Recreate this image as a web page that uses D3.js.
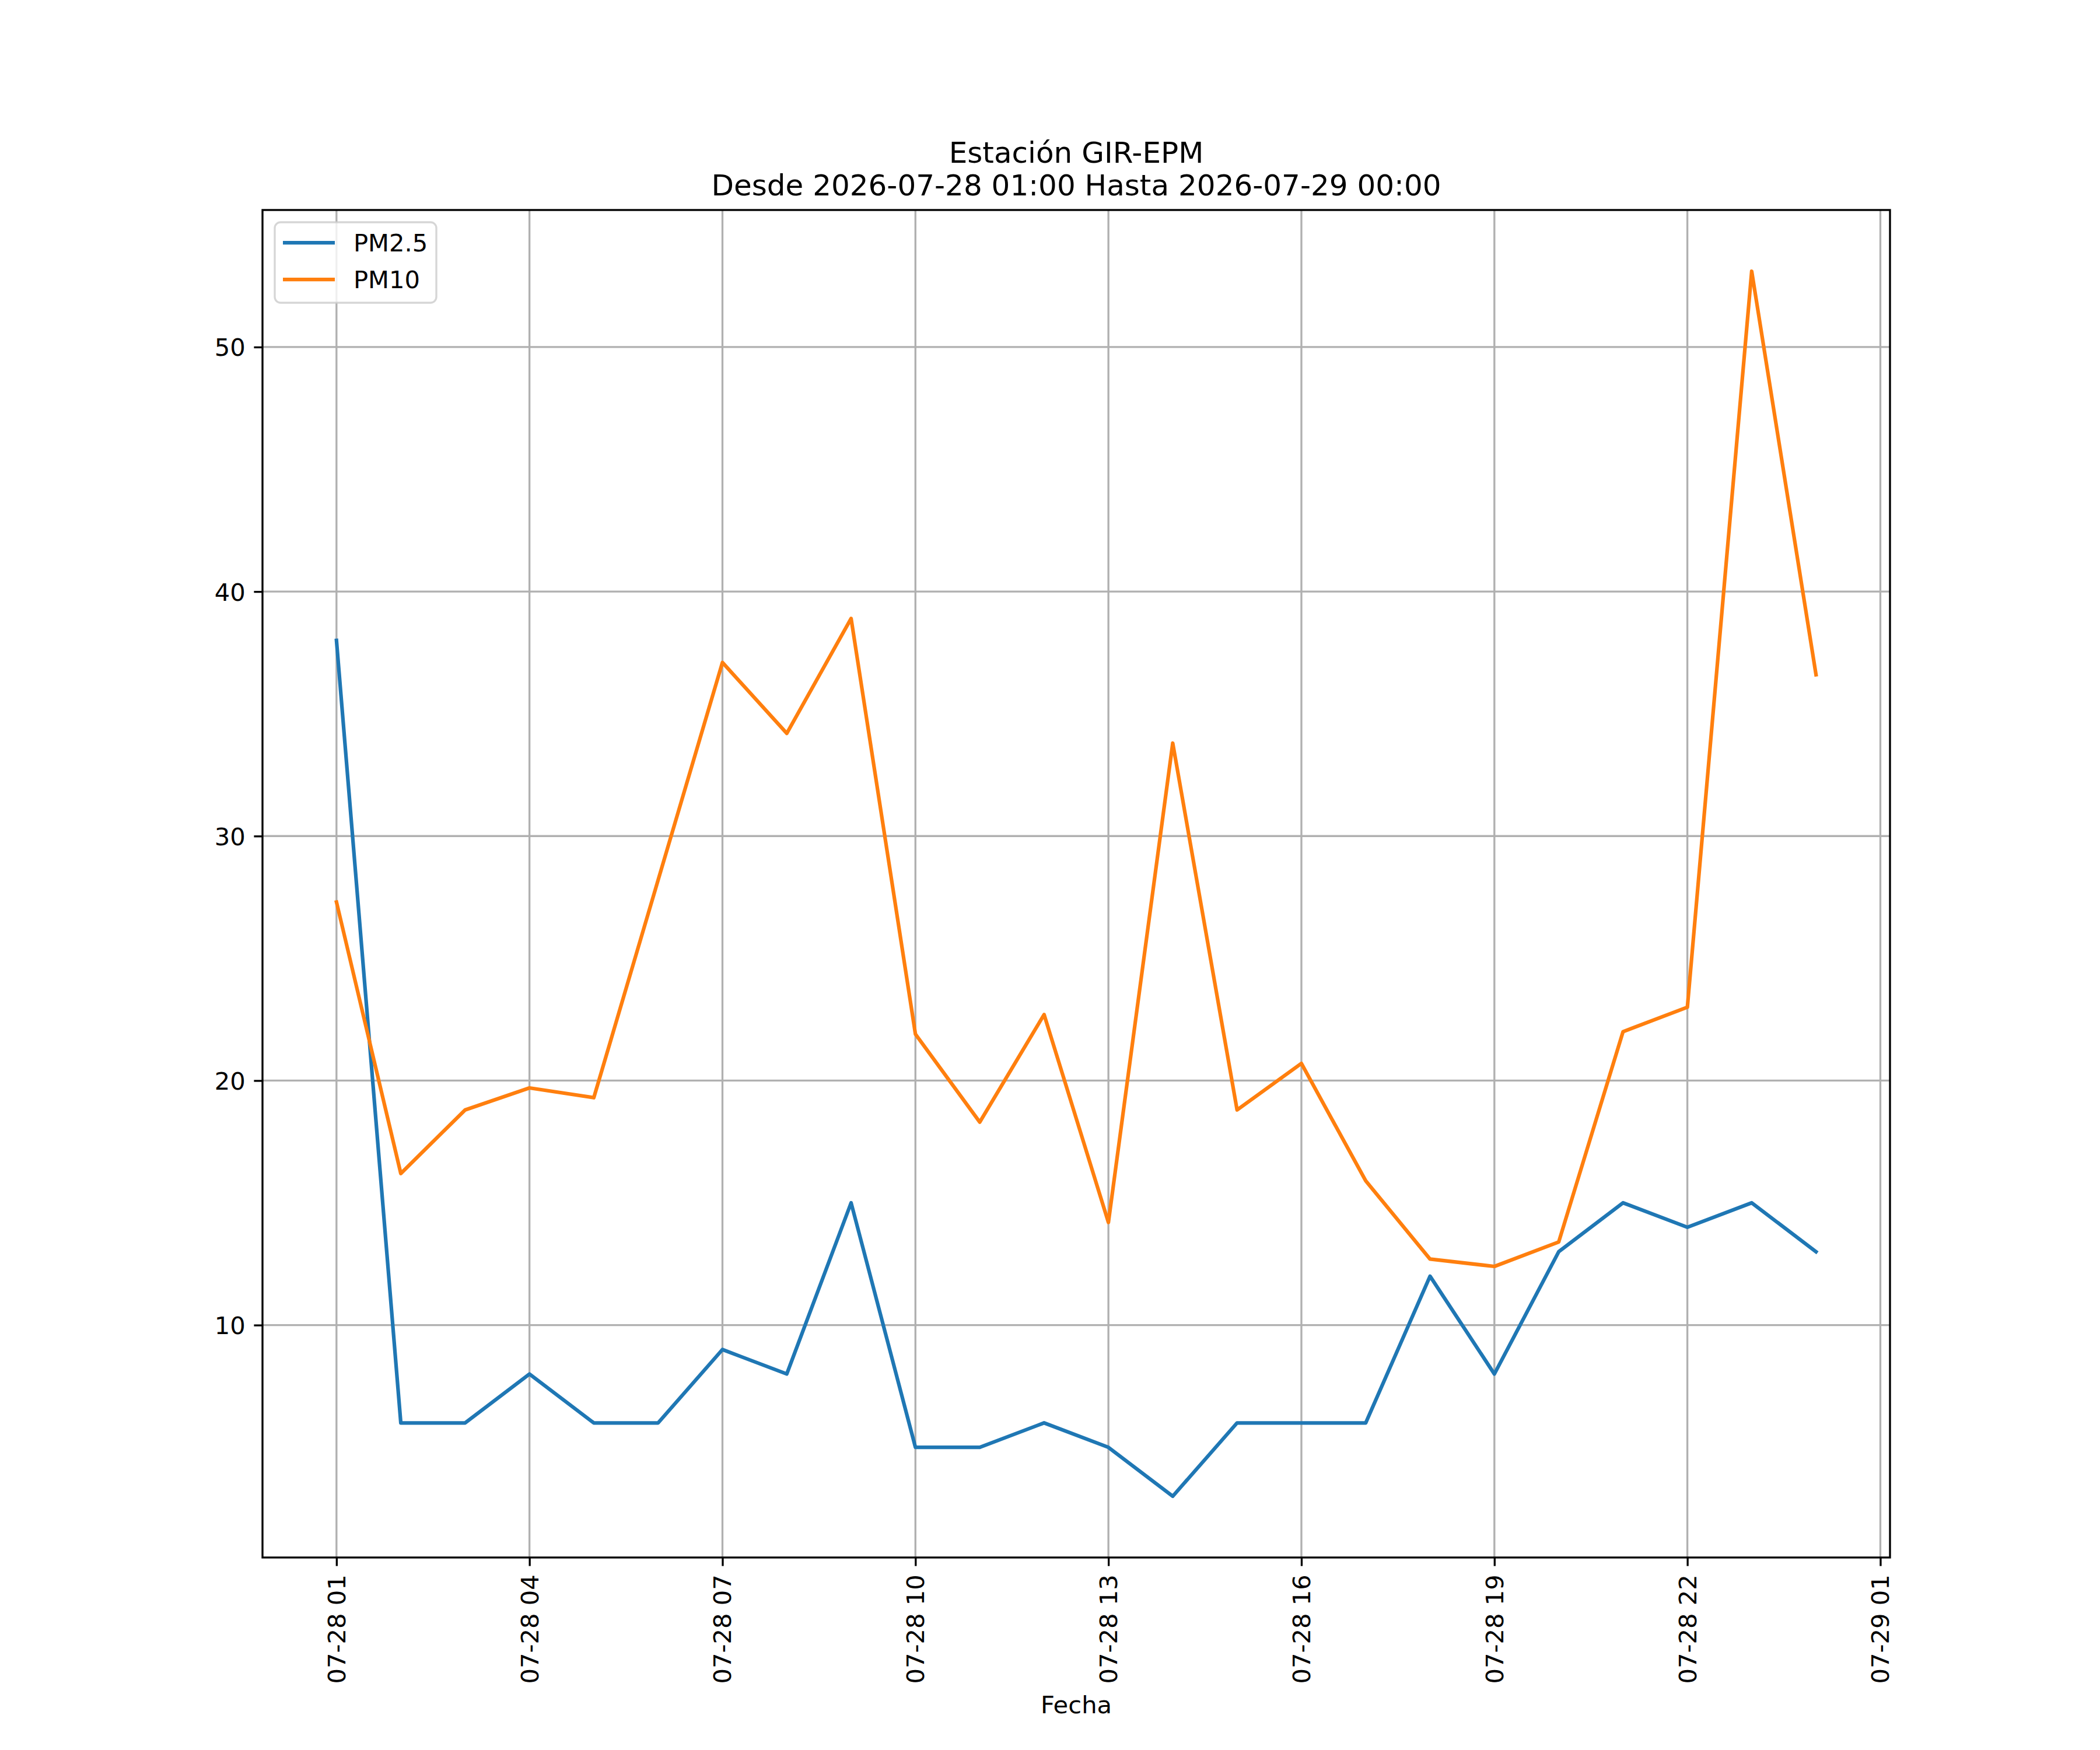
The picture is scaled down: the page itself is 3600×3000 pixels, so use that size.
<!DOCTYPE html>
<html>
<head>
<meta charset="utf-8">
<script src="https://cdn.jsdelivr.net/npm/d3@7"></script>
<style>
  html, body { margin: 0; padding: 0; background: #fff; }
  svg { display: block; font-family: "DejaVu Sans", sans-serif; }
</style>
</head>
<body>
<svg id="chart" width="3600" height="3000"></svg>
<script>
// ---- Data ----
const fechas = [
  "2026-07-28 01:00","2026-07-28 02:00","2026-07-28 03:00","2026-07-28 04:00",
  "2026-07-28 05:00","2026-07-28 06:00","2026-07-28 07:00","2026-07-28 08:00",
  "2026-07-28 09:00","2026-07-28 10:00","2026-07-28 11:00","2026-07-28 12:00",
  "2026-07-28 13:00","2026-07-28 14:00","2026-07-28 15:00","2026-07-28 16:00",
  "2026-07-28 17:00","2026-07-28 18:00","2026-07-28 19:00","2026-07-28 20:00",
  "2026-07-28 21:00","2026-07-28 22:00","2026-07-28 23:00","2026-07-29 00:00"
];
const pm25 = [38, 6, 6, 8, 6, 6, 9, 8, 15, 5, 5, 6, 5, 3, 6, 6, 6, 12, 8, 13, 15, 14, 15, 13];
const pm10 = [27.3, 16.2, 18.8, 19.7, 19.3, 28.2, 37.1, 34.2, 38.9, 21.9, 18.3, 22.7,
              14.2, 33.8, 18.8, 20.7, 15.9, 12.7, 12.4, 13.4, 22.0, 23.0, 53.1, 36.6];
const seriesNames = ["PM2.5", "PM10"];
const seriesColors = ["#1f77b4", "#ff7f0e"];
const yTickValues = [10, 20, 30, 40, 50];
const titleLines = ["Estación GIR-EPM", "Desde 2026-07-28 01:00 Hasta 2026-07-29 00:00"];
const xLabel = "Fecha";

// ---- Layout ----
const W = 3600, H = 3000;
const L = 450, R = 3240, T = 360, B = 2670;
const FS = 41.67;          // 10pt @300dpi
const LW = 6.25;           // 1.5pt
const THIN = 3.33;         // 0.8pt
const TICK = 14.6;

const parse = d3.utcParse("%Y-%m-%d %H:%M");
const dates = fechas.map(parse);

const svg = d3.select("#chart");
svg.append("rect").attr("width", W).attr("height", H).attr("fill", "#fff");

// x scale with matplotlib-like 5% margins
const t0 = dates[0], t1 = dates[dates.length - 1];
const span = t1 - t0;
const x = d3.scaleUtc()
  .domain([new Date(+t0 - 0.05 * span), new Date(+t1 + 0.05 * span)])
  .range([L, R]);

const allVals = pm25.concat(pm10);
const yMin = d3.min(allVals), yMax = d3.max(allVals);
const yr = yMax - yMin;
const y = d3.scaleLinear()
  .domain([yMin - 0.05 * yr, yMax + 0.05 * yr])
  .range([B, T]);

const xTicks = d3.utcHour.range(t0, new Date(+t1 + 2 * 3600e3), 3);
const fmt = d3.utcFormat("%m-%d %H");

// grid
const grid = svg.append("g");
grid.selectAll("line.gx").data(xTicks).enter().append("line")
  .attr("x1", d => x(d)).attr("x2", d => x(d))
  .attr("y1", T).attr("y2", B)
  .attr("stroke", "#b0b0b0").attr("stroke-width", THIN);
grid.selectAll("line.gy").data(yTickValues).enter().append("line")
  .attr("x1", L).attr("x2", R)
  .attr("y1", d => y(d)).attr("y2", d => y(d))
  .attr("stroke", "#b0b0b0").attr("stroke-width", THIN);

// lines
const lineGen = d3.line().x((d, i) => x(dates[i])).y(d => y(d));
[pm25, pm10].forEach((vals, k) => {
  svg.append("path")
    .datum(vals)
    .attr("d", lineGen)
    .attr("fill", "none")
    .attr("stroke", seriesColors[k])
    .attr("stroke-width", LW)
    .attr("stroke-linejoin", "round")
    .attr("stroke-linecap", "square");
});

// spines
svg.append("rect")
  .attr("x", L).attr("y", T).attr("width", R - L).attr("height", B - T)
  .attr("fill", "none").attr("stroke", "#000").attr("stroke-width", THIN);

// x axis
const xAxis = d3.axisBottom(x).tickValues(xTicks).tickFormat(fmt)
  .tickSize(TICK).tickPadding(TICK);
const gx = svg.append("g").attr("transform", `translate(0,${B})`).call(xAxis);
gx.select(".domain").remove();
gx.selectAll(".tick line").attr("stroke", "#000").attr("stroke-width", THIN);
gx.selectAll(".tick text")
  .attr("font-size", FS)
  .attr("font-family", "DejaVu Sans")
  .attr("fill", "#000")
  .attr("y", 0).attr("dy", null)
  .attr("text-anchor", "end")
  .attr("dominant-baseline", "central")
  .attr("transform", `translate(0,${TICK + 14.6}) rotate(-90)`);

// y axis
const yAxis = d3.axisLeft(y).tickValues(yTickValues).tickFormat(d3.format("d"))
  .tickSize(TICK).tickPadding(14.6);
const gy = svg.append("g").attr("transform", `translate(${L},0)`).call(yAxis);
gy.select(".domain").remove();
gy.selectAll(".tick line").attr("stroke", "#000").attr("stroke-width", THIN);
gy.selectAll(".tick text")
  .attr("font-size", FS)
  .attr("font-family", "DejaVu Sans")
  .attr("fill", "#000")
  .attr("dy", "0.36em");

// title
const cx = (L + R) / 2;
svg.append("text").attr("x", cx).attr("y", 279)
  .attr("text-anchor", "middle").attr("font-size", 50).attr("fill", "#000")
  .text(titleLines[0]);
svg.append("text").attr("x", cx).attr("y", 335)
  .attr("text-anchor", "middle").attr("font-size", 50).attr("fill", "#000")
  .text(titleLines[1]);

// x label
svg.append("text").attr("x", cx).attr("y", 2937)
  .attr("text-anchor", "middle").attr("font-size", FS).attr("fill", "#000")
  .text(xLabel);

// legend
const lg = svg.append("g");
lg.append("rect")
  .attr("x", 471).attr("y", 381).attr("width", 277).attr("height", 138)
  .attr("rx", 10).attr("ry", 10)
  .attr("fill", "#fff").attr("fill-opacity", 0.8)
  .attr("stroke", "#cccccc").attr("stroke-opacity", 0.8).attr("stroke-width", THIN);
seriesNames.forEach((name, i) => {
  const yy = 416 + i * 63;
  lg.append("line")
    .attr("x1", 485).attr("x2", 574).attr("y1", yy).attr("y2", yy)
    .attr("stroke", seriesColors[i]).attr("stroke-width", LW);
  lg.append("text")
    .attr("x", 606).attr("y", yy + 14.5)
    .attr("font-size", FS).attr("fill", "#000")
    .text(name);
});
</script>
</body>
</html>
